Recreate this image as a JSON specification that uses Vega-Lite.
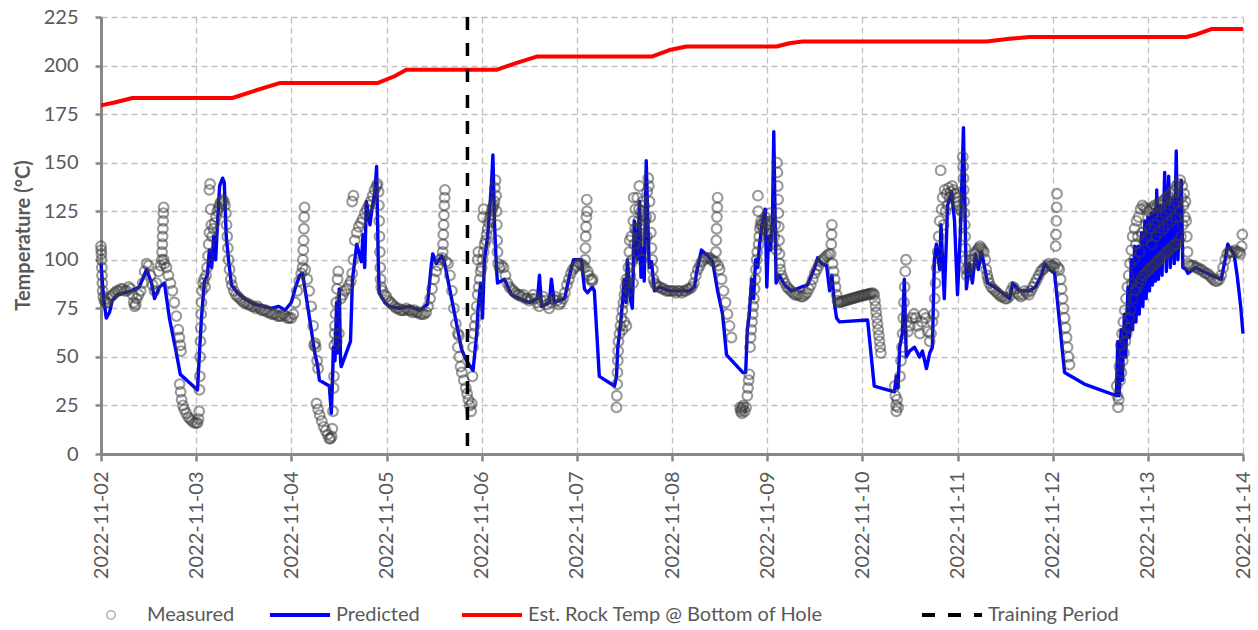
{
  "$schema": "https://vega.github.io/schema/vega-lite/v6.json",
  "width": 1142,
  "height": 437,
  "autosize": {"type": "none"},
  "padding": {"left": 101, "top": 17, "right": 15, "bottom": 176},
  "background": "#ffffff",
  "config": {
    "font": "Lato",
    "view": {"stroke": null},
    "axis": {
      "labelFont": "Lato", "labelFontSize": 20, "labelColor": "#595959",
      "domainColor": "#878787", "domainWidth": 3,
      "tickColor": "#878787", "tickWidth": 2.5,
      "gridColor": "#bfbfbf", "gridDash": [6, 4], "gridWidth": 1.3,
      "titleFont": "Lato", "titleColor": "#595959"
    },
    "legend": {"labelFont": "Lato", "labelFontSize": 20, "labelColor": "#595959", "labelLimit": 0, "padding": 0}
  },
  "datasets": {
    "rock": [
      {"t": "2022-11-02T00:00", "v": 179.5}, {"t": "2022-11-02T03:24", "v": 181}, {"t": "2022-11-02T07:56", "v": 183.3},
      {"t": "2022-11-03T09:09", "v": 183.3}, {"t": "2022-11-03T14:42", "v": 187}, {"t": "2022-11-03T21:00", "v": 191},
      {"t": "2022-11-04T21:44", "v": 191}, {"t": "2022-11-05T02:00", "v": 194.5}, {"t": "2022-11-05T05:00", "v": 197.8},
      {"t": "2022-11-06T03:44", "v": 197.8}, {"t": "2022-11-06T08:16", "v": 201}, {"t": "2022-11-06T14:04", "v": 204.7},
      {"t": "2022-11-07T19:04", "v": 204.7}, {"t": "2022-11-07T23:21", "v": 208}, {"t": "2022-11-08T03:39", "v": 209.8},
      {"t": "2022-11-09T02:21", "v": 209.8}, {"t": "2022-11-09T05:37", "v": 211.5}, {"t": "2022-11-09T08:52", "v": 212.4},
      {"t": "2022-11-11T07:19", "v": 212.4}, {"t": "2022-11-11T13:07", "v": 213.8}, {"t": "2022-11-11T18:10", "v": 214.7},
      {"t": "2022-11-13T09:44", "v": 214.7}, {"t": "2022-11-13T12:15", "v": 216}, {"t": "2022-11-13T16:00", "v": 218.8},
      {"t": "2022-11-14T00:00", "v": 218.8}
    ],
    "training": [
      {"t": "2022-11-05T20:25"}
    ],
    "predicted": [
      {"t":"2022-11-02T00:00","v":98},{"t":"2022-11-02T00:40","v":80},{"t":"2022-11-02T01:20","v":70},{"t":"2022-11-02T02:10","v":73},
      {"t":"2022-11-02T02:50","v":79},{"t":"2022-11-02T04:10","v":82},{"t":"2022-11-02T05:55","v":83},{"t":"2022-11-02T07:40","v":84},
      {"t":"2022-11-02T09:40","v":86},{"t":"2022-11-02T11:30","v":95},{"t":"2022-11-02T12:45","v":88},{"t":"2022-11-02T13:30","v":80},
      {"t":"2022-11-02T14:45","v":86},{"t":"2022-11-02T16:00","v":88},{"t":"2022-11-02T17:15","v":70},{"t":"2022-11-02T19:00","v":52},
      {"t":"2022-11-02T20:00","v":41},
      {"t":"2022-11-03T00:20","v":33},{"t":"2022-11-03T00:50","v":52},{"t":"2022-11-03T01:20","v":70},{"t":"2022-11-03T02:05","v":89},
      {"t":"2022-11-03T02:50","v":92},{"t":"2022-11-03T03:20","v":105},{"t":"2022-11-03T03:55","v":96},{"t":"2022-11-03T04:25","v":112},
      {"t":"2022-11-03T04:55","v":100},{"t":"2022-11-03T05:25","v":120},{"t":"2022-11-03T05:55","v":138},{"t":"2022-11-03T06:40","v":142},
      {"t":"2022-11-03T07:05","v":140},{"t":"2022-11-03T07:35","v":112},{"t":"2022-11-03T08:10","v":100},{"t":"2022-11-03T08:55","v":87},
      {"t":"2022-11-03T10:25","v":83},{"t":"2022-11-03T12:10","v":80},{"t":"2022-11-03T14:40","v":77},{"t":"2022-11-03T17:10","v":76},
      {"t":"2022-11-03T18:55","v":75},{"t":"2022-11-03T20:50","v":76},{"t":"2022-11-03T22:25","v":74},
      {"t":"2022-11-04T00:00","v":78},{"t":"2022-11-04T01:05","v":86},{"t":"2022-11-04T02:05","v":92},{"t":"2022-11-04T02:50","v":93},
      {"t":"2022-11-04T04:35","v":70},{"t":"2022-11-04T05:55","v":52},{"t":"2022-11-04T06:35","v":46},{"t":"2022-11-04T07:05","v":38},
      {"t":"2022-11-04T09:35","v":35},{"t":"2022-11-04T10:05","v":21},{"t":"2022-11-04T10:25","v":40},{"t":"2022-11-04T10:35","v":55},
      {"t":"2022-11-04T11:00","v":48},{"t":"2022-11-04T11:25","v":78},{"t":"2022-11-04T11:35","v":52},{"t":"2022-11-04T12:05","v":85},
      {"t":"2022-11-04T12:25","v":48},{"t":"2022-11-04T12:35","v":45},{"t":"2022-11-04T14:55","v":58},{"t":"2022-11-04T15:25","v":90},
      {"t":"2022-11-04T16:30","v":108},{"t":"2022-11-04T17:40","v":99},{"t":"2022-11-04T18:05","v":113},{"t":"2022-11-04T18:30","v":96},
      {"t":"2022-11-04T18:55","v":130},{"t":"2022-11-04T19:50","v":118},{"t":"2022-11-04T20:15","v":125},{"t":"2022-11-04T21:05","v":135},
      {"t":"2022-11-04T21:30","v":148},{"t":"2022-11-04T21:55","v":100},{"t":"2022-11-04T22:10","v":83},{"t":"2022-11-04T23:35","v":78},
      {"t":"2022-11-05T00:45","v":76},{"t":"2022-11-05T03:20","v":75},{"t":"2022-11-05T05:50","v":76},{"t":"2022-11-05T08:20","v":74},
      {"t":"2022-11-05T10:20","v":77},{"t":"2022-11-05T11:20","v":98},{"t":"2022-11-05T11:40","v":103},{"t":"2022-11-05T12:35","v":98},
      {"t":"2022-11-05T13:55","v":102},{"t":"2022-11-05T14:35","v":99},{"t":"2022-11-05T16:25","v":80},{"t":"2022-11-05T17:40","v":67},
      {"t":"2022-11-05T18:55","v":54},{"t":"2022-11-05T20:10","v":48},{"t":"2022-11-05T21:50","v":43},{"t":"2022-11-05T22:45","v":62},
      {"t":"2022-11-05T23:05","v":75},{"t":"2022-11-05T23:45","v":88},
      {"t":"2022-11-06T00:12","v":70},{"t":"2022-11-06T00:42","v":100},{"t":"2022-11-06T01:30","v":112},{"t":"2022-11-06T02:00","v":125},
      {"t":"2022-11-06T02:30","v":140},{"t":"2022-11-06T02:50","v":154},{"t":"2022-11-06T03:15","v":118},{"t":"2022-11-06T03:45","v":95},
      {"t":"2022-11-06T04:00","v":88},{"t":"2022-11-06T05:45","v":90},{"t":"2022-11-06T07:30","v":82},{"t":"2022-11-06T09:30","v":80},
      {"t":"2022-11-06T12:05","v":78},{"t":"2022-11-06T14:05","v":80},{"t":"2022-11-06T14:35","v":92},{"t":"2022-11-06T15:05","v":76},
      {"t":"2022-11-06T17:05","v":78},{"t":"2022-11-06T17:35","v":90},{"t":"2022-11-06T18:20","v":78},{"t":"2022-11-06T20:55","v":80},
      {"t":"2022-11-06T22:10","v":92},{"t":"2022-11-06T23:10","v":100},{"t":"2022-11-06T23:35","v":100},
      {"t":"2022-11-07T01:10","v":100},{"t":"2022-11-07T01:55","v":85},{"t":"2022-11-07T02:40","v":83},{"t":"2022-11-07T03:55","v":86},
      {"t":"2022-11-07T04:25","v":84},{"t":"2022-11-07T05:40","v":40},{"t":"2022-11-07T09:30","v":35},{"t":"2022-11-07T10:00","v":40},
      {"t":"2022-11-07T10:20","v":55},{"t":"2022-11-07T10:45","v":62},{"t":"2022-11-07T11:10","v":70},{"t":"2022-11-07T12:00","v":90},
      {"t":"2022-11-07T12:25","v":78},{"t":"2022-11-07T12:45","v":100},{"t":"2022-11-07T13:30","v":80},{"t":"2022-11-07T14:00","v":75},
      {"t":"2022-11-07T14:30","v":120},{"t":"2022-11-07T15:15","v":100},{"t":"2022-11-07T15:50","v":130},{"t":"2022-11-07T16:10","v":91},
      {"t":"2022-11-07T16:30","v":106},{"t":"2022-11-07T17:00","v":89},{"t":"2022-11-07T17:30","v":151},{"t":"2022-11-07T17:55","v":119},
      {"t":"2022-11-07T18:15","v":96},{"t":"2022-11-07T18:50","v":99},{"t":"2022-11-07T19:35","v":84},{"t":"2022-11-07T20:50","v":86},
      {"t":"2022-11-07T23:20","v":84},
      {"t":"2022-11-08T01:55","v":84},{"t":"2022-11-08T04:25","v":84},{"t":"2022-11-08T05:40","v":86},{"t":"2022-11-08T06:10","v":93},
      {"t":"2022-11-08T07:25","v":105},{"t":"2022-11-08T09:00","v":102},{"t":"2022-11-08T10:15","v":99},{"t":"2022-11-08T11:30","v":84},
      {"t":"2022-11-08T12:45","v":72},{"t":"2022-11-08T13:45","v":51},{"t":"2022-11-08T17:50","v":42},{"t":"2022-11-08T18:35","v":42},
      {"t":"2022-11-08T19:00","v":64},{"t":"2022-11-08T19:30","v":72},{"t":"2022-11-08T20:05","v":90},{"t":"2022-11-08T20:35","v":80},
      {"t":"2022-11-08T21:05","v":100},{"t":"2022-11-08T21:35","v":96},{"t":"2022-11-08T22:05","v":108},{"t":"2022-11-08T22:50","v":120},
      {"t":"2022-11-08T23:30","v":126},{"t":"2022-11-08T23:55","v":86},
      {"t":"2022-11-09T00:20","v":112},{"t":"2022-11-09T00:50","v":105},{"t":"2022-11-09T01:20","v":120},{"t":"2022-11-09T01:40","v":166},
      {"t":"2022-11-09T02:15","v":88},{"t":"2022-11-09T03:05","v":92},{"t":"2022-11-09T04:25","v":87},{"t":"2022-11-09T06:05","v":84},
      {"t":"2022-11-09T08:40","v":86},{"t":"2022-11-09T10:10","v":87},{"t":"2022-11-09T12:00","v":96},{"t":"2022-11-09T12:45","v":101},
      {"t":"2022-11-09T13:45","v":98},{"t":"2022-11-09T15:00","v":97},{"t":"2022-11-09T15:45","v":84},{"t":"2022-11-09T16:20","v":92},
      {"t":"2022-11-09T17:00","v":77},{"t":"2022-11-09T17:30","v":70},{"t":"2022-11-09T18:15","v":68},
      {"t":"2022-11-10T01:20","v":69},{"t":"2022-11-10T03:00","v":35},{"t":"2022-11-10T08:05","v":32},{"t":"2022-11-10T08:35","v":40},
      {"t":"2022-11-10T09:00","v":34},{"t":"2022-11-10T09:25","v":55},{"t":"2022-11-10T10:05","v":62},{"t":"2022-11-10T10:35","v":90},
      {"t":"2022-11-10T11:05","v":50},{"t":"2022-11-10T11:55","v":53},{"t":"2022-11-10T13:10","v":55},{"t":"2022-11-10T14:25","v":50},
      {"t":"2022-11-10T15:10","v":53},{"t":"2022-11-10T16:10","v":44},{"t":"2022-11-10T17:00","v":52},{"t":"2022-11-10T17:40","v":55},
      {"t":"2022-11-10T18:10","v":100},{"t":"2022-11-10T18:40","v":108},{"t":"2022-11-10T19:30","v":95},{"t":"2022-11-10T19:50","v":118},
      {"t":"2022-11-10T20:40","v":80},{"t":"2022-11-10T21:30","v":128},{"t":"2022-11-10T22:30","v":135},{"t":"2022-11-10T23:15","v":120},
      {"t":"2022-11-11T00:00","v":82},{"t":"2022-11-11T00:45","v":115},{"t":"2022-11-11T01:30","v":168},{"t":"2022-11-11T02:15","v":85},
      {"t":"2022-11-11T03:00","v":98},{"t":"2022-11-11T03:45","v":88},{"t":"2022-11-11T04:30","v":103},{"t":"2022-11-11T05:15","v":95},
      {"t":"2022-11-11T06:05","v":104},{"t":"2022-11-11T06:50","v":96},{"t":"2022-11-11T07:35","v":88},{"t":"2022-11-11T09:20","v":86},
      {"t":"2022-11-11T11:55","v":82},{"t":"2022-11-11T13:10","v":80},{"t":"2022-11-11T13:55","v":88},{"t":"2022-11-11T15:35","v":84},
      {"t":"2022-11-11T18:10","v":84},{"t":"2022-11-11T19:40","v":86},{"t":"2022-11-11T21:10","v":92},{"t":"2022-11-11T22:00","v":98},
      {"t":"2022-11-11T23:10","v":95},
      {"t":"2022-11-12T00:30","v":93},{"t":"2022-11-12T03:00","v":42},{"t":"2022-11-12T08:00","v":36},{"t":"2022-11-12T12:00","v":33},
      {"t":"2022-11-12T16:05","v":30},{"t":"2022-11-12T16:25","v":58},{"t":"2022-11-12T16:45","v":30},{"t":"2022-11-12T17:15","v":64},
      {"t":"2022-11-12T17:35","v":38},{"t":"2022-11-12T18:05","v":72},{"t":"2022-11-12T18:25","v":50},{"t":"2022-11-12T19:00","v":86},
      {"t":"2022-11-12T19:20","v":60},{"t":"2022-11-12T19:50","v":100},{"t":"2022-11-12T20:10","v":64},{"t":"2022-11-12T20:40","v":107},
      {"t":"2022-11-12T21:00","v":68},{"t":"2022-11-12T21:30","v":107},{"t":"2022-11-12T21:50","v":72},{"t":"2022-11-12T22:25","v":114},
      {"t":"2022-11-12T22:45","v":76},{"t":"2022-11-12T23:15","v":120},{"t":"2022-11-12T23:35","v":80},
      {"t":"2022-11-13T00:00","v":122},{"t":"2022-11-13T00:25","v":84},{"t":"2022-11-13T00:50","v":124},{"t":"2022-11-13T01:10","v":87},
      {"t":"2022-11-13T01:40","v":126},{"t":"2022-11-13T01:55","v":89},{"t":"2022-11-13T02:15","v":136},{"t":"2022-11-13T02:40","v":90},
      {"t":"2022-11-13T03:10","v":128},{"t":"2022-11-13T03:35","v":92},{"t":"2022-11-13T04:15","v":145},{"t":"2022-11-13T04:40","v":94},
      {"t":"2022-11-13T05:15","v":143},{"t":"2022-11-13T05:40","v":96},{"t":"2022-11-13T06:20","v":132},{"t":"2022-11-13T06:40","v":98},
      {"t":"2022-11-13T07:10","v":156},{"t":"2022-11-13T07:35","v":100},{"t":"2022-11-13T08:25","v":141},{"t":"2022-11-13T08:50","v":96},
      {"t":"2022-11-13T09:40","v":95},{"t":"2022-11-13T10:05","v":93},{"t":"2022-11-13T12:00","v":96},{"t":"2022-11-13T14:00","v":94},
      {"t":"2022-11-13T16:00","v":92},{"t":"2022-11-13T18:30","v":90},{"t":"2022-11-13T19:30","v":100},{"t":"2022-11-13T20:10","v":108},
      {"t":"2022-11-13T21:00","v":105},{"t":"2022-11-13T21:45","v":103},{"t":"2022-11-13T22:35","v":91},{"t":"2022-11-13T23:25","v":76},
      {"t":"2022-11-14T00:00","v":62}
    ],
    "measured": [
      {"t":"2022-11-02T00:00","v":107},{"t":"2022-11-02T00:03","v":105},{"t":"2022-11-02T00:06","v":103},{"t":"2022-11-02T00:09","v":100},
      {"t":"2022-11-02T00:12","v":96},{"t":"2022-11-02T00:15","v":92},{"t":"2022-11-02T00:20","v":88},{"t":"2022-11-02T00:25","v":84},
      {"t":"2022-11-02T00:35","v":81},{"t":"2022-11-02T00:50","v":79},{"t":"2022-11-02T01:10","v":78},{"t":"2022-11-02T01:30","v":78},
      {"t":"2022-11-02T02:00","v":80},{"t":"2022-11-02T02:30","v":81},{"t":"2022-11-02T03:00","v":82},{"t":"2022-11-02T03:30","v":83},
      {"t":"2022-11-02T04:00","v":84},{"t":"2022-11-02T04:30","v":84},{"t":"2022-11-02T05:00","v":85},{"t":"2022-11-02T05:30","v":85},
      {"t":"2022-11-02T06:00","v":84},{"t":"2022-11-02T06:30","v":84},{"t":"2022-11-02T07:00","v":86},{"t":"2022-11-02T07:30","v":85},
      {"t":"2022-11-02T08:00","v":82},{"t":"2022-11-02T08:15","v":78},{"t":"2022-11-02T08:30","v":76},{"t":"2022-11-02T08:45","v":77},
      {"t":"2022-11-02T09:00","v":80},{"t":"2022-11-02T09:30","v":82},{"t":"2022-11-02T10:00","v":84},{"t":"2022-11-02T10:30","v":88},
      {"t":"2022-11-02T11:00","v":94},{"t":"2022-11-02T11:30","v":98},{"t":"2022-11-02T12:00","v":97},{"t":"2022-11-02T12:30","v":92},
      {"t":"2022-11-02T13:00","v":87},{"t":"2022-11-02T13:30","v":84},{"t":"2022-11-02T14:00","v":88},{"t":"2022-11-02T14:30","v":94},
      {"t":"2022-11-02T15:00","v":97},{"t":"2022-11-02T15:20","v":100},{"t":"2022-11-02T15:24","v":104},{"t":"2022-11-02T15:28","v":108},
      {"t":"2022-11-02T15:32","v":112},{"t":"2022-11-02T15:36","v":116},{"t":"2022-11-02T15:40","v":120},{"t":"2022-11-02T15:44","v":124},
      {"t":"2022-11-02T15:48","v":127},{"t":"2022-11-02T15:50","v":100},{"t":"2022-11-02T16:00","v":98},{"t":"2022-11-02T16:30","v":96},
      {"t":"2022-11-02T17:00","v":92},{"t":"2022-11-02T17:30","v":88},{"t":"2022-11-02T18:00","v":84},{"t":"2022-11-02T18:30","v":78},
      {"t":"2022-11-02T19:00","v":71},{"t":"2022-11-02T19:30","v":64},{"t":"2022-11-02T19:45","v":60},{"t":"2022-11-02T20:00","v":56},
      {"t":"2022-11-02T20:10","v":53},{"t":"2022-11-02T19:50","v":36},{"t":"2022-11-02T20:05","v":32},{"t":"2022-11-02T20:20","v":28},
      {"t":"2022-11-02T20:40","v":25},{"t":"2022-11-02T21:00","v":23},{"t":"2022-11-02T21:30","v":21},{"t":"2022-11-02T22:00","v":19},
      {"t":"2022-11-02T22:30","v":18},{"t":"2022-11-02T23:00","v":17},{"t":"2022-11-02T23:30","v":16},
      {"t":"2022-11-03T00:00","v":16},{"t":"2022-11-03T00:20","v":16},{"t":"2022-11-03T00:35","v":18},{"t":"2022-11-03T00:45","v":22},
      {"t":"2022-11-03T00:50","v":33},{"t":"2022-11-03T00:55","v":40},{"t":"2022-11-03T01:00","v":50},{"t":"2022-11-03T01:05","v":58},
      {"t":"2022-11-03T01:10","v":65},{"t":"2022-11-03T01:15","v":72},{"t":"2022-11-03T01:20","v":78},{"t":"2022-11-03T01:30","v":84},
      {"t":"2022-11-03T01:45","v":88},{"t":"2022-11-03T02:00","v":90},{"t":"2022-11-03T02:15","v":86},{"t":"2022-11-03T02:30","v":92},
      {"t":"2022-11-03T02:45","v":96},{"t":"2022-11-03T03:00","v":102},{"t":"2022-11-03T03:10","v":108},{"t":"2022-11-03T03:20","v":114},
      {"t":"2022-11-03T03:20","v":136},{"t":"2022-11-03T03:30","v":139},{"t":"2022-11-03T03:40","v":126},{"t":"2022-11-03T03:50","v":118},
      {"t":"2022-11-03T04:00","v":112},{"t":"2022-11-03T04:20","v":116},{"t":"2022-11-03T04:40","v":119},{"t":"2022-11-03T05:00","v":122},
      {"t":"2022-11-03T05:20","v":125},{"t":"2022-11-03T05:40","v":127},{"t":"2022-11-03T06:00","v":129},{"t":"2022-11-03T06:20","v":130},
      {"t":"2022-11-03T06:40","v":131},{"t":"2022-11-03T07:00","v":130},{"t":"2022-11-03T07:15","v":128},{"t":"2022-11-03T07:30","v":124},
      {"t":"2022-11-03T07:40","v":118},{"t":"2022-11-03T07:50","v":112},{"t":"2022-11-03T08:00","v":106},{"t":"2022-11-03T08:10","v":100},
      {"t":"2022-11-03T08:25","v":95},{"t":"2022-11-03T08:45","v":90},{"t":"2022-11-03T09:00","v":87},{"t":"2022-11-03T09:30","v":84},
      {"t":"2022-11-03T10:00","v":82},{"t":"2022-11-03T10:30","v":81},{"t":"2022-11-03T11:00","v":80},{"t":"2022-11-03T11:30","v":79},
      {"t":"2022-11-03T12:00","v":78},{"t":"2022-11-03T12:30","v":78},{"t":"2022-11-03T13:00","v":77},{"t":"2022-11-03T13:30","v":77},
      {"t":"2022-11-03T14:00","v":76},{"t":"2022-11-03T14:30","v":76},{"t":"2022-11-03T15:00","v":75},{"t":"2022-11-03T15:30","v":76},
      {"t":"2022-11-03T16:00","v":75},{"t":"2022-11-03T16:30","v":74},{"t":"2022-11-03T17:00","v":74},{"t":"2022-11-03T17:30","v":74},
      {"t":"2022-11-03T18:00","v":73},{"t":"2022-11-03T18:30","v":73},{"t":"2022-11-03T19:00","v":72},{"t":"2022-11-03T19:30","v":72},
      {"t":"2022-11-03T20:00","v":72},{"t":"2022-11-03T20:30","v":71},{"t":"2022-11-03T21:00","v":71},{"t":"2022-11-03T21:30","v":71},
      {"t":"2022-11-03T22:00","v":72},{"t":"2022-11-03T22:30","v":71},{"t":"2022-11-03T23:00","v":70},{"t":"2022-11-03T23:30","v":70},
      {"t":"2022-11-04T00:00","v":70},{"t":"2022-11-04T00:30","v":72},{"t":"2022-11-04T01:00","v":78},{"t":"2022-11-04T01:30","v":84},
      {"t":"2022-11-04T02:00","v":89},{"t":"2022-11-04T02:30","v":93},{"t":"2022-11-04T02:50","v":96},{"t":"2022-11-04T02:55","v":100},
      {"t":"2022-11-04T03:00","v":105},{"t":"2022-11-04T03:05","v":110},{"t":"2022-11-04T03:10","v":116},{"t":"2022-11-04T03:15","v":122},
      {"t":"2022-11-04T03:20","v":127},{"t":"2022-11-04T03:30","v":95},{"t":"2022-11-04T04:00","v":90},{"t":"2022-11-04T04:30","v":84},
      {"t":"2022-11-04T05:00","v":76},{"t":"2022-11-04T05:30","v":66},{"t":"2022-11-04T05:45","v":56},{"t":"2022-11-04T06:00","v":57},
      {"t":"2022-11-04T06:10","v":55},{"t":"2022-11-04T06:30","v":48},{"t":"2022-11-04T06:45","v":44},{"t":"2022-11-04T06:20","v":26},
      {"t":"2022-11-04T06:45","v":23},{"t":"2022-11-04T07:10","v":20},{"t":"2022-11-04T07:40","v":17},{"t":"2022-11-04T08:10","v":14},
      {"t":"2022-11-04T08:40","v":12},{"t":"2022-11-04T09:10","v":10},{"t":"2022-11-04T09:35","v":8},{"t":"2022-11-04T09:50","v":8},
      {"t":"2022-11-04T10:10","v":9},{"t":"2022-11-04T10:20","v":13},{"t":"2022-11-04T10:30","v":22},{"t":"2022-11-04T10:40","v":34},
      {"t":"2022-11-04T10:45","v":40},{"t":"2022-11-04T10:50","v":56},{"t":"2022-11-04T10:55","v":62},{"t":"2022-11-04T11:00","v":66},
      {"t":"2022-11-04T11:10","v":72},{"t":"2022-11-04T11:20","v":78},{"t":"2022-11-04T11:30","v":85},{"t":"2022-11-04T11:40","v":90},
      {"t":"2022-11-04T11:50","v":94},{"t":"2022-11-04T11:30","v":58},{"t":"2022-11-04T12:00","v":62},{"t":"2022-11-04T12:30","v":80},
      {"t":"2022-11-04T13:00","v":82},{"t":"2022-11-04T13:30","v":84},{"t":"2022-11-04T14:00","v":85},{"t":"2022-11-04T14:30","v":87},
      {"t":"2022-11-04T15:00","v":89},{"t":"2022-11-04T15:20","v":93},{"t":"2022-11-04T15:40","v":100},{"t":"2022-11-04T15:20","v":130},
      {"t":"2022-11-04T15:40","v":133},{"t":"2022-11-04T16:00","v":110},{"t":"2022-11-04T16:30","v":114},{"t":"2022-11-04T17:00","v":117},
      {"t":"2022-11-04T17:30","v":119},{"t":"2022-11-04T18:00","v":121},{"t":"2022-11-04T18:30","v":124},{"t":"2022-11-04T19:00","v":126},
      {"t":"2022-11-04T19:30","v":128},{"t":"2022-11-04T20:00","v":130},{"t":"2022-11-04T20:30","v":133},{"t":"2022-11-04T21:00","v":136},
      {"t":"2022-11-04T21:30","v":138},{"t":"2022-11-04T21:45","v":139},{"t":"2022-11-04T22:00","v":135},{"t":"2022-11-04T22:05","v":128},
      {"t":"2022-11-04T22:10","v":120},{"t":"2022-11-04T22:15","v":112},{"t":"2022-11-04T22:20","v":104},{"t":"2022-11-04T22:25","v":96},
      {"t":"2022-11-04T22:30","v":90},{"t":"2022-11-04T22:40","v":86},{"t":"2022-11-04T23:00","v":84},{"t":"2022-11-04T23:30","v":82},
      {"t":"2022-11-05T00:00","v":81},{"t":"2022-11-05T00:30","v":79},{"t":"2022-11-05T01:00","v":78},{"t":"2022-11-05T01:30","v":77},
      {"t":"2022-11-05T02:00","v":76},{"t":"2022-11-05T02:30","v":75},{"t":"2022-11-05T03:00","v":75},{"t":"2022-11-05T03:30","v":74},
      {"t":"2022-11-05T04:00","v":74},{"t":"2022-11-05T04:30","v":74},{"t":"2022-11-05T05:00","v":75},{"t":"2022-11-05T05:30","v":74},
      {"t":"2022-11-05T06:00","v":74},{"t":"2022-11-05T06:30","v":73},{"t":"2022-11-05T07:00","v":74},{"t":"2022-11-05T07:30","v":73},
      {"t":"2022-11-05T08:00","v":73},{"t":"2022-11-05T08:30","v":72},{"t":"2022-11-05T09:00","v":72},{"t":"2022-11-05T09:30","v":72},
      {"t":"2022-11-05T10:00","v":73},{"t":"2022-11-05T10:30","v":76},{"t":"2022-11-05T11:00","v":80},{"t":"2022-11-05T11:30","v":85},
      {"t":"2022-11-05T12:00","v":90},{"t":"2022-11-05T12:30","v":94},{"t":"2022-11-05T13:00","v":97},{"t":"2022-11-05T13:30","v":100},
      {"t":"2022-11-05T14:00","v":101},{"t":"2022-11-05T14:10","v":104},{"t":"2022-11-05T14:15","v":108},{"t":"2022-11-05T14:20","v":113},
      {"t":"2022-11-05T14:25","v":118},{"t":"2022-11-05T14:30","v":123},{"t":"2022-11-05T14:35","v":128},{"t":"2022-11-05T14:40","v":132},
      {"t":"2022-11-05T14:45","v":136},{"t":"2022-11-05T15:00","v":99},{"t":"2022-11-05T15:30","v":98},{"t":"2022-11-05T16:00","v":92},
      {"t":"2022-11-05T16:30","v":84},{"t":"2022-11-05T17:00","v":75},{"t":"2022-11-05T17:30","v":67},{"t":"2022-11-05T18:00","v":62},
      {"t":"2022-11-05T18:15","v":61},{"t":"2022-11-05T18:00","v":55},{"t":"2022-11-05T18:20","v":50},{"t":"2022-11-05T18:40","v":45},
      {"t":"2022-11-05T19:00","v":42},{"t":"2022-11-05T19:30","v":38},{"t":"2022-11-05T20:00","v":34},{"t":"2022-11-05T20:20","v":31},
      {"t":"2022-11-05T20:40","v":28},{"t":"2022-11-05T21:00","v":25},{"t":"2022-11-05T21:20","v":22},{"t":"2022-11-05T21:30","v":26},
      {"t":"2022-11-05T21:40","v":40},{"t":"2022-11-05T21:50","v":55},{"t":"2022-11-05T22:00","v":62},{"t":"2022-11-05T22:15","v":66},
      {"t":"2022-11-05T22:30","v":70},{"t":"2022-11-05T22:45","v":76},{"t":"2022-11-05T23:00","v":82},{"t":"2022-11-05T23:15","v":86},
      {"t":"2022-11-05T23:30","v":90},{"t":"2022-11-05T23:45","v":94},{"t":"2022-11-05T23:00","v":100},{"t":"2022-11-05T23:10","v":104},
      {"t":"2022-11-06T00:00","v":96},{"t":"2022-11-06T00:15","v":100},{"t":"2022-11-06T00:20","v":122},{"t":"2022-11-06T00:30","v":126},
      {"t":"2022-11-06T00:30","v":104},{"t":"2022-11-06T00:45","v":108},{"t":"2022-11-06T01:00","v":110},{"t":"2022-11-06T01:15","v":113},
      {"t":"2022-11-06T01:30","v":116},{"t":"2022-11-06T01:45","v":119},{"t":"2022-11-06T02:00","v":121},{"t":"2022-11-06T02:15","v":123},
      {"t":"2022-11-06T02:30","v":125},{"t":"2022-11-06T02:45","v":127},{"t":"2022-11-06T03:00","v":128},{"t":"2022-11-06T03:15","v":130},
      {"t":"2022-11-06T03:20","v":137},{"t":"2022-11-06T03:30","v":141},{"t":"2022-11-06T03:40","v":133},{"t":"2022-11-06T03:45","v":125},
      {"t":"2022-11-06T03:50","v":118},{"t":"2022-11-06T03:55","v":110},{"t":"2022-11-06T04:00","v":104},{"t":"2022-11-06T04:10","v":98},
      {"t":"2022-11-06T04:30","v":96},{"t":"2022-11-06T05:00","v":97},{"t":"2022-11-06T05:30","v":96},{"t":"2022-11-06T06:00","v":92},
      {"t":"2022-11-06T06:30","v":88},{"t":"2022-11-06T07:00","v":86},{"t":"2022-11-06T07:30","v":85},{"t":"2022-11-06T08:00","v":84},
      {"t":"2022-11-06T08:30","v":83},{"t":"2022-11-06T09:00","v":82},{"t":"2022-11-06T09:30","v":82},{"t":"2022-11-06T10:00","v":81},
      {"t":"2022-11-06T10:30","v":82},{"t":"2022-11-06T11:00","v":80},{"t":"2022-11-06T11:30","v":80},{"t":"2022-11-06T12:00","v":79},
      {"t":"2022-11-06T12:30","v":80},{"t":"2022-11-06T13:00","v":82},{"t":"2022-11-06T13:30","v":80},{"t":"2022-11-06T14:00","v":78},
      {"t":"2022-11-06T14:30","v":76},{"t":"2022-11-06T15:00","v":79},{"t":"2022-11-06T15:30","v":81},{"t":"2022-11-06T16:00","v":79},
      {"t":"2022-11-06T16:30","v":77},{"t":"2022-11-06T17:00","v":75},{"t":"2022-11-06T17:30","v":78},{"t":"2022-11-06T18:00","v":80},
      {"t":"2022-11-06T18:30","v":81},{"t":"2022-11-06T19:00","v":79},{"t":"2022-11-06T19:30","v":77},{"t":"2022-11-06T20:00","v":78},
      {"t":"2022-11-06T20:30","v":80},{"t":"2022-11-06T21:00","v":83},{"t":"2022-11-06T21:30","v":87},{"t":"2022-11-06T22:00","v":90},
      {"t":"2022-11-06T22:30","v":93},{"t":"2022-11-06T23:00","v":95},{"t":"2022-11-06T23:30","v":96},
      {"t":"2022-11-07T00:00","v":97},{"t":"2022-11-07T00:30","v":98},{"t":"2022-11-07T01:00","v":98},{"t":"2022-11-07T01:30","v":97},
      {"t":"2022-11-07T02:00","v":96},{"t":"2022-11-07T02:05","v":100},{"t":"2022-11-07T02:10","v":106},{"t":"2022-11-07T02:15","v":112},
      {"t":"2022-11-07T02:20","v":117},{"t":"2022-11-07T02:25","v":122},{"t":"2022-11-07T02:30","v":131},{"t":"2022-11-07T02:35","v":125},
      {"t":"2022-11-07T02:45","v":94},{"t":"2022-11-07T03:00","v":92},{"t":"2022-11-07T03:30","v":90},{"t":"2022-11-07T03:50","v":89},
      {"t":"2022-11-07T04:00","v":90},
      {"t":"2022-11-07T10:00","v":24},{"t":"2022-11-07T10:05","v":30},{"t":"2022-11-07T10:10","v":36},{"t":"2022-11-07T10:15","v":42},
      {"t":"2022-11-07T10:20","v":48},{"t":"2022-11-07T10:25","v":53},{"t":"2022-11-07T10:30","v":58},{"t":"2022-11-07T10:45","v":62},
      {"t":"2022-11-07T11:00","v":66},{"t":"2022-11-07T11:15","v":70},{"t":"2022-11-07T11:30","v":74},{"t":"2022-11-07T11:45","v":78},
      {"t":"2022-11-07T12:00","v":82},{"t":"2022-11-07T12:15","v":86},{"t":"2022-11-07T12:30","v":90},{"t":"2022-11-07T12:45","v":88},
      {"t":"2022-11-07T11:30","v":64},{"t":"2022-11-07T12:00","v":68},{"t":"2022-11-07T12:30","v":66},
      {"t":"2022-11-07T13:00","v":96},{"t":"2022-11-07T13:15","v":104},{"t":"2022-11-07T13:30","v":92},{"t":"2022-11-07T13:45","v":112},
      {"t":"2022-11-07T14:00","v":100},{"t":"2022-11-07T14:15","v":120},{"t":"2022-11-07T14:30","v":108},{"t":"2022-11-07T14:45","v":126},
      {"t":"2022-11-07T15:00","v":115},{"t":"2022-11-07T15:15","v":132},{"t":"2022-11-07T15:30","v":120},{"t":"2022-11-07T15:45","v":138},
      {"t":"2022-11-07T16:00","v":112},{"t":"2022-11-07T16:15","v":125},{"t":"2022-11-07T16:30","v":105},{"t":"2022-11-07T16:45","v":118},
      {"t":"2022-11-07T17:00","v":128},{"t":"2022-11-07T17:15","v":110},{"t":"2022-11-07T17:30","v":122},{"t":"2022-11-07T17:45","v":135},
      {"t":"2022-11-07T13:10","v":84},{"t":"2022-11-07T13:40","v":98},{"t":"2022-11-07T14:10","v":88},{"t":"2022-11-07T14:40","v":116},
      {"t":"2022-11-07T15:10","v":104},{"t":"2022-11-07T15:40","v":126},{"t":"2022-11-07T16:10","v":118},{"t":"2022-11-07T16:40","v":130},
      {"t":"2022-11-07T17:10","v":120},{"t":"2022-11-07T17:40","v":112},{"t":"2022-11-07T13:20","v":110},{"t":"2022-11-07T14:20","v":132},
      {"t":"2022-11-07T15:20","v":110},{"t":"2022-11-07T16:20","v":100},
      {"t":"2022-11-07T18:00","v":142},{"t":"2022-11-07T18:10","v":138},{"t":"2022-11-07T18:20","v":130},{"t":"2022-11-07T18:30","v":122},
      {"t":"2022-11-07T18:40","v":114},{"t":"2022-11-07T18:50","v":106},{"t":"2022-11-07T19:00","v":100},{"t":"2022-11-07T19:10","v":95},
      {"t":"2022-11-07T19:20","v":90},{"t":"2022-11-07T19:40","v":88},{"t":"2022-11-07T20:00","v":87},{"t":"2022-11-07T20:30","v":86},
      {"t":"2022-11-07T21:00","v":86},{"t":"2022-11-07T21:30","v":85},{"t":"2022-11-07T22:00","v":85},{"t":"2022-11-07T22:30","v":84},
      {"t":"2022-11-07T23:00","v":84},{"t":"2022-11-07T23:30","v":84},
      {"t":"2022-11-08T00:00","v":84},{"t":"2022-11-08T00:30","v":84},{"t":"2022-11-08T01:00","v":83},{"t":"2022-11-08T01:30","v":84},
      {"t":"2022-11-08T02:00","v":84},{"t":"2022-11-08T02:30","v":83},{"t":"2022-11-08T03:00","v":84},{"t":"2022-11-08T03:30","v":84},
      {"t":"2022-11-08T04:00","v":85},{"t":"2022-11-08T04:30","v":85},{"t":"2022-11-08T05:00","v":86},{"t":"2022-11-08T05:30","v":88},
      {"t":"2022-11-08T06:00","v":92},{"t":"2022-11-08T06:30","v":95},{"t":"2022-11-08T07:00","v":97},{"t":"2022-11-08T07:30","v":99},
      {"t":"2022-11-08T08:00","v":100},{"t":"2022-11-08T08:30","v":101},{"t":"2022-11-08T09:00","v":101},{"t":"2022-11-08T09:30","v":101},
      {"t":"2022-11-08T10:00","v":100},{"t":"2022-11-08T10:30","v":99},{"t":"2022-11-08T11:00","v":99},{"t":"2022-11-08T11:05","v":104},
      {"t":"2022-11-08T11:10","v":110},{"t":"2022-11-08T11:15","v":116},{"t":"2022-11-08T11:20","v":122},{"t":"2022-11-08T11:25","v":127},
      {"t":"2022-11-08T11:30","v":132},{"t":"2022-11-08T11:40","v":97},{"t":"2022-11-08T12:00","v":95},{"t":"2022-11-08T12:30","v":90},
      {"t":"2022-11-08T13:00","v":84},{"t":"2022-11-08T13:30","v":78},{"t":"2022-11-08T14:00","v":72},{"t":"2022-11-08T14:30","v":66},
      {"t":"2022-11-08T15:00","v":60},
      {"t":"2022-11-08T17:10","v":24},{"t":"2022-11-08T17:20","v":22},{"t":"2022-11-08T17:30","v":23},{"t":"2022-11-08T17:40","v":21},
      {"t":"2022-11-08T17:50","v":24},{"t":"2022-11-08T18:00","v":25},{"t":"2022-11-08T18:20","v":22},{"t":"2022-11-08T18:40","v":24},
      {"t":"2022-11-08T19:00","v":30},{"t":"2022-11-08T19:10","v":34},{"t":"2022-11-08T19:20","v":38},{"t":"2022-11-08T19:30","v":41},
      {"t":"2022-11-08T19:40","v":55},{"t":"2022-11-08T19:50","v":60},{"t":"2022-11-08T20:00","v":64},{"t":"2022-11-08T20:10","v":68},
      {"t":"2022-11-08T20:20","v":72},{"t":"2022-11-08T20:30","v":76},{"t":"2022-11-08T20:40","v":80},{"t":"2022-11-08T20:50","v":85},
      {"t":"2022-11-08T21:00","v":90},{"t":"2022-11-08T21:10","v":95},{"t":"2022-11-08T21:20","v":100},{"t":"2022-11-08T21:30","v":104},
      {"t":"2022-11-08T21:40","v":133},{"t":"2022-11-08T21:45","v":125},{"t":"2022-11-08T21:50","v":108},{"t":"2022-11-08T22:00","v":112},
      {"t":"2022-11-08T22:10","v":116},{"t":"2022-11-08T22:20","v":118},{"t":"2022-11-08T22:30","v":120},{"t":"2022-11-08T22:45","v":118},
      {"t":"2022-11-08T23:00","v":116},{"t":"2022-11-08T23:15","v":120},{"t":"2022-11-08T23:30","v":122},{"t":"2022-11-08T23:45","v":118},
      {"t":"2022-11-09T00:00","v":115},{"t":"2022-11-09T00:15","v":112},{"t":"2022-11-09T00:30","v":118},{"t":"2022-11-09T00:45","v":124},
      {"t":"2022-11-09T01:00","v":120},{"t":"2022-11-09T01:15","v":114},{"t":"2022-11-09T01:30","v":108},{"t":"2022-11-09T01:45","v":112},
      {"t":"2022-11-09T02:00","v":118},{"t":"2022-11-09T02:20","v":105},{"t":"2022-11-09T02:30","v":150},{"t":"2022-11-09T02:35","v":145},
      {"t":"2022-11-09T02:40","v":138},{"t":"2022-11-09T02:45","v":131},{"t":"2022-11-09T02:50","v":124},{"t":"2022-11-09T02:55","v":117},
      {"t":"2022-11-09T03:00","v":110},{"t":"2022-11-09T03:05","v":103},{"t":"2022-11-09T03:10","v":98},{"t":"2022-11-09T03:20","v":95},
      {"t":"2022-11-09T03:40","v":92},{"t":"2022-11-09T04:00","v":90},{"t":"2022-11-09T04:30","v":88},{"t":"2022-11-09T05:00","v":86},
      {"t":"2022-11-09T05:30","v":85},{"t":"2022-11-09T06:00","v":84},{"t":"2022-11-09T06:30","v":83},{"t":"2022-11-09T07:00","v":82},
      {"t":"2022-11-09T07:30","v":82},{"t":"2022-11-09T08:00","v":82},{"t":"2022-11-09T08:30","v":81},{"t":"2022-11-09T09:00","v":81},
      {"t":"2022-11-09T09:30","v":82},{"t":"2022-11-09T10:00","v":83},{"t":"2022-11-09T10:30","v":85},{"t":"2022-11-09T11:00","v":87},
      {"t":"2022-11-09T11:30","v":90},{"t":"2022-11-09T12:00","v":93},{"t":"2022-11-09T12:30","v":95},{"t":"2022-11-09T13:00","v":97},
      {"t":"2022-11-09T13:30","v":99},{"t":"2022-11-09T14:00","v":100},{"t":"2022-11-09T14:30","v":101},{"t":"2022-11-09T15:00","v":102},
      {"t":"2022-11-09T15:30","v":103},{"t":"2022-11-09T16:00","v":103},{"t":"2022-11-09T16:10","v":108},{"t":"2022-11-09T16:15","v":113},
      {"t":"2022-11-09T16:20","v":118},{"t":"2022-11-09T16:30","v":98},{"t":"2022-11-09T16:45","v":94},{"t":"2022-11-09T17:00","v":90},
      {"t":"2022-11-09T17:15","v":86},{"t":"2022-11-09T17:30","v":82},{"t":"2022-11-09T17:45","v":79},{"t":"2022-11-09T18:00","v":78},
      {"t":"2022-11-09T18:20","v":78.2},{"t":"2022-11-09T18:40","v":78.4},{"t":"2022-11-09T19:00","v":78.6},{"t":"2022-11-09T19:20","v":78.8},
      {"t":"2022-11-09T19:40","v":79},{"t":"2022-11-09T20:00","v":79.2},{"t":"2022-11-09T20:20","v":79.4},{"t":"2022-11-09T20:40","v":79.6},
      {"t":"2022-11-09T21:00","v":79.8},{"t":"2022-11-09T21:20","v":80},{"t":"2022-11-09T21:40","v":80.2},{"t":"2022-11-09T22:00","v":80.4},
      {"t":"2022-11-09T22:20","v":80.6},{"t":"2022-11-09T22:40","v":80.8},{"t":"2022-11-09T23:00","v":81},{"t":"2022-11-09T23:20","v":81.2},
      {"t":"2022-11-09T23:40","v":81.4},
      {"t":"2022-11-10T00:00","v":81.5},{"t":"2022-11-10T00:20","v":81.7},{"t":"2022-11-10T00:40","v":81.9},{"t":"2022-11-10T01:00","v":82},
      {"t":"2022-11-10T01:20","v":82.2},{"t":"2022-11-10T01:40","v":82.4},{"t":"2022-11-10T02:00","v":82.5},{"t":"2022-11-10T02:20","v":82.7},
      {"t":"2022-11-10T02:40","v":82.8},{"t":"2022-11-10T03:00","v":82},{"t":"2022-11-10T03:10","v":79},{"t":"2022-11-10T03:20","v":76},
      {"t":"2022-11-10T03:30","v":73},{"t":"2022-11-10T03:40","v":70},{"t":"2022-11-10T03:50","v":67},{"t":"2022-11-10T04:00","v":64},
      {"t":"2022-11-10T04:10","v":61},{"t":"2022-11-10T04:20","v":58},{"t":"2022-11-10T04:30","v":55},{"t":"2022-11-10T04:40","v":52},
      {"t":"2022-11-10T08:10","v":35},{"t":"2022-11-10T08:20","v":30},{"t":"2022-11-10T08:30","v":25},{"t":"2022-11-10T08:35","v":22},
      {"t":"2022-11-10T08:45","v":28},{"t":"2022-11-10T09:00","v":24},{"t":"2022-11-10T09:30","v":40},{"t":"2022-11-10T09:45","v":48},
      {"t":"2022-11-10T10:00","v":55},{"t":"2022-11-10T10:10","v":62},{"t":"2022-11-10T10:20","v":70},{"t":"2022-11-10T10:30","v":78},
      {"t":"2022-11-10T10:40","v":86},{"t":"2022-11-10T10:50","v":94},{"t":"2022-11-10T11:00","v":100},{"t":"2022-11-10T11:10","v":68},
      {"t":"2022-11-10T11:30","v":63},{"t":"2022-11-10T12:00","v":66},{"t":"2022-11-10T12:30","v":70},{"t":"2022-11-10T13:00","v":72},
      {"t":"2022-11-10T13:30","v":70},{"t":"2022-11-10T14:00","v":66},{"t":"2022-11-10T14:30","v":62},{"t":"2022-11-10T15:00","v":68},
      {"t":"2022-11-10T15:30","v":72},{"t":"2022-11-10T16:00","v":70},{"t":"2022-11-10T16:30","v":63},{"t":"2022-11-10T17:00","v":58},
      {"t":"2022-11-10T17:20","v":62},{"t":"2022-11-10T17:40","v":68},{"t":"2022-11-10T18:00","v":72},{"t":"2022-11-10T18:15","v":80},
      {"t":"2022-11-10T18:30","v":88},{"t":"2022-11-10T18:45","v":96},{"t":"2022-11-10T19:00","v":104},{"t":"2022-11-10T19:15","v":112},
      {"t":"2022-11-10T19:30","v":120},{"t":"2022-11-10T19:45","v":146},{"t":"2022-11-10T20:00","v":126},{"t":"2022-11-10T20:15","v":132},
      {"t":"2022-11-10T20:30","v":118},{"t":"2022-11-10T20:45","v":136},{"t":"2022-11-10T21:00","v":125},{"t":"2022-11-10T21:15","v":134},
      {"t":"2022-11-10T21:30","v":128},{"t":"2022-11-10T21:45","v":137},{"t":"2022-11-10T22:00","v":132},{"t":"2022-11-10T22:20","v":135},
      {"t":"2022-11-10T22:40","v":138},{"t":"2022-11-10T23:00","v":136},{"t":"2022-11-10T23:20","v":134},{"t":"2022-11-10T23:40","v":132},
      {"t":"2022-11-11T00:00","v":130},{"t":"2022-11-11T00:20","v":128},{"t":"2022-11-11T00:40","v":126},{"t":"2022-11-11T01:00","v":125},
      {"t":"2022-11-11T01:20","v":153},{"t":"2022-11-11T01:25","v":148},{"t":"2022-11-11T01:30","v":142},{"t":"2022-11-11T01:35","v":136},
      {"t":"2022-11-11T01:40","v":130},{"t":"2022-11-11T01:45","v":124},{"t":"2022-11-11T01:50","v":118},{"t":"2022-11-11T01:55","v":112},
      {"t":"2022-11-11T02:00","v":106},{"t":"2022-11-11T02:05","v":100},{"t":"2022-11-11T02:10","v":95},{"t":"2022-11-11T02:20","v":92},
      {"t":"2022-11-11T02:40","v":95},{"t":"2022-11-11T03:00","v":98},{"t":"2022-11-11T03:20","v":100},{"t":"2022-11-11T03:40","v":97},
      {"t":"2022-11-11T04:00","v":100},{"t":"2022-11-11T04:20","v":103},{"t":"2022-11-11T04:40","v":104},{"t":"2022-11-11T05:00","v":105},
      {"t":"2022-11-11T05:20","v":106},{"t":"2022-11-11T05:40","v":107},{"t":"2022-11-11T06:00","v":106},{"t":"2022-11-11T06:20","v":105},
      {"t":"2022-11-11T06:40","v":104},{"t":"2022-11-11T07:00","v":100},{"t":"2022-11-11T07:15","v":95},{"t":"2022-11-11T07:30","v":92},
      {"t":"2022-11-11T07:45","v":90},{"t":"2022-11-11T08:00","v":88},{"t":"2022-11-11T08:30","v":86},{"t":"2022-11-11T09:00","v":85},
      {"t":"2022-11-11T09:30","v":84},{"t":"2022-11-11T10:00","v":83},{"t":"2022-11-11T10:30","v":82},{"t":"2022-11-11T11:00","v":81},
      {"t":"2022-11-11T11:30","v":81},{"t":"2022-11-11T12:00","v":80},{"t":"2022-11-11T12:30","v":80},{"t":"2022-11-11T13:00","v":81},
      {"t":"2022-11-11T13:30","v":84},{"t":"2022-11-11T14:00","v":86},{"t":"2022-11-11T14:30","v":85},{"t":"2022-11-11T15:00","v":83},
      {"t":"2022-11-11T15:30","v":82},{"t":"2022-11-11T16:00","v":81},{"t":"2022-11-11T16:30","v":82},{"t":"2022-11-11T17:00","v":84},
      {"t":"2022-11-11T17:30","v":83},{"t":"2022-11-11T18:00","v":82},{"t":"2022-11-11T18:30","v":84},{"t":"2022-11-11T19:00","v":86},
      {"t":"2022-11-11T19:30","v":88},{"t":"2022-11-11T20:00","v":90},{"t":"2022-11-11T20:30","v":92},{"t":"2022-11-11T21:00","v":94},
      {"t":"2022-11-11T21:30","v":95},{"t":"2022-11-11T22:00","v":96},{"t":"2022-11-11T22:30","v":97},{"t":"2022-11-11T23:00","v":98},
      {"t":"2022-11-11T23:30","v":97},
      {"t":"2022-11-12T00:00","v":97},{"t":"2022-11-12T00:20","v":96},{"t":"2022-11-12T00:40","v":98},{"t":"2022-11-12T00:45","v":107},
      {"t":"2022-11-12T00:50","v":113},{"t":"2022-11-12T00:55","v":120},{"t":"2022-11-12T01:00","v":127},{"t":"2022-11-12T01:05","v":134},
      {"t":"2022-11-12T01:20","v":96},{"t":"2022-11-12T01:40","v":95},{"t":"2022-11-12T02:00","v":90},{"t":"2022-11-12T02:15","v":85},
      {"t":"2022-11-12T02:30","v":80},{"t":"2022-11-12T02:45","v":75},{"t":"2022-11-12T03:00","v":70},{"t":"2022-11-12T03:15","v":65},
      {"t":"2022-11-12T03:30","v":60},{"t":"2022-11-12T03:45","v":55},{"t":"2022-11-12T04:00","v":50},{"t":"2022-11-12T04:15","v":46},
      {"t":"2022-11-12T16:10","v":35},{"t":"2022-11-12T16:20","v":30},{"t":"2022-11-12T16:30","v":24},{"t":"2022-11-12T16:40","v":28},
      {"t":"2022-11-12T16:50","v":45},{"t":"2022-11-12T17:00","v":38},{"t":"2022-11-12T17:10","v":56},{"t":"2022-11-12T17:20","v":42},
      {"t":"2022-11-12T17:30","v":62},{"t":"2022-11-12T17:40","v":48},{"t":"2022-11-12T17:50","v":68},{"t":"2022-11-12T18:00","v":52},
      {"t":"2022-11-12T18:10","v":74},{"t":"2022-11-12T18:20","v":58},{"t":"2022-11-12T18:30","v":80},{"t":"2022-11-12T18:40","v":62},
      {"t":"2022-11-12T18:50","v":86},{"t":"2022-11-12T19:00","v":65},{"t":"2022-11-12T19:10","v":92},{"t":"2022-11-12T19:20","v":70},
      {"t":"2022-11-12T19:30","v":98},{"t":"2022-11-12T19:40","v":74},{"t":"2022-11-12T19:50","v":105},{"t":"2022-11-12T20:00","v":88},
      {"t":"2022-11-12T20:10","v":112},{"t":"2022-11-12T20:20","v":80},{"t":"2022-11-12T20:30","v":100},{"t":"2022-11-12T20:40","v":116},
      {"t":"2022-11-12T20:50","v":84},{"t":"2022-11-12T21:00","v":108},{"t":"2022-11-12T21:10","v":120},{"t":"2022-11-12T21:20","v":86},
      {"t":"2022-11-12T21:30","v":112},{"t":"2022-11-12T21:40","v":122},{"t":"2022-11-12T21:50","v":88},{"t":"2022-11-12T22:00","v":104},
      {"t":"2022-11-12T22:10","v":126},{"t":"2022-11-12T22:20","v":90},{"t":"2022-11-12T22:30","v":114},{"t":"2022-11-12T22:40","v":128},
      {"t":"2022-11-12T22:50","v":92},{"t":"2022-11-12T23:00","v":110},{"t":"2022-11-12T23:10","v":127},{"t":"2022-11-12T23:20","v":93},
      {"t":"2022-11-12T23:30","v":118},{"t":"2022-11-12T23:40","v":126},{"t":"2022-11-12T23:50","v":94},
      {"t":"2022-11-13T00:00","v":112},{"t":"2022-11-13T00:10","v":125},{"t":"2022-11-13T00:20","v":95},{"t":"2022-11-13T00:30","v":116},
      {"t":"2022-11-13T00:40","v":126},{"t":"2022-11-13T00:50","v":96},{"t":"2022-11-13T01:00","v":108},{"t":"2022-11-13T01:10","v":127},
      {"t":"2022-11-13T01:20","v":97},{"t":"2022-11-13T01:30","v":118},{"t":"2022-11-13T01:40","v":128},{"t":"2022-11-13T01:50","v":98},
      {"t":"2022-11-13T02:00","v":112},{"t":"2022-11-13T02:10","v":127},{"t":"2022-11-13T02:20","v":99},{"t":"2022-11-13T02:30","v":120},
      {"t":"2022-11-13T02:40","v":129},{"t":"2022-11-13T02:50","v":100},{"t":"2022-11-13T03:00","v":114},{"t":"2022-11-13T03:10","v":128},
      {"t":"2022-11-13T03:20","v":101},{"t":"2022-11-13T03:30","v":122},{"t":"2022-11-13T03:40","v":130},{"t":"2022-11-13T03:50","v":102},
      {"t":"2022-11-13T04:00","v":116},{"t":"2022-11-13T04:10","v":131},{"t":"2022-11-13T04:20","v":103},{"t":"2022-11-13T04:30","v":124},
      {"t":"2022-11-13T04:40","v":132},{"t":"2022-11-13T04:50","v":104},{"t":"2022-11-13T05:00","v":118},{"t":"2022-11-13T05:10","v":133},
      {"t":"2022-11-13T05:20","v":105},{"t":"2022-11-13T05:30","v":126},{"t":"2022-11-13T05:40","v":134},{"t":"2022-11-13T05:50","v":106},
      {"t":"2022-11-13T06:00","v":120},{"t":"2022-11-13T06:10","v":135},{"t":"2022-11-13T06:20","v":107},{"t":"2022-11-13T06:30","v":128},
      {"t":"2022-11-13T06:40","v":136},{"t":"2022-11-13T06:50","v":108},{"t":"2022-11-13T07:00","v":122},{"t":"2022-11-13T07:10","v":138},
      {"t":"2022-11-13T07:20","v":108},{"t":"2022-11-13T07:30","v":130},{"t":"2022-11-13T07:40","v":139},{"t":"2022-11-13T07:50","v":110},
      {"t":"2022-11-13T08:00","v":125},{"t":"2022-11-13T08:10","v":141},{"t":"2022-11-13T08:20","v":112},{"t":"2022-11-13T08:30","v":132},
      {"t":"2022-11-13T08:40","v":138},{"t":"2022-11-13T08:50","v":118},{"t":"2022-11-13T09:00","v":128},{"t":"2022-11-13T09:10","v":134},
      {"t":"2022-11-13T09:20","v":122},{"t":"2022-11-13T09:30","v":130},{"t":"2022-11-13T09:40","v":120},{"t":"2022-11-13T09:50","v":112},
      {"t":"2022-11-13T10:00","v":104},{"t":"2022-11-13T10:10","v":98},{"t":"2022-11-13T10:30","v":97},{"t":"2022-11-13T11:00","v":97},
      {"t":"2022-11-13T11:30","v":97},{"t":"2022-11-13T12:00","v":96},{"t":"2022-11-13T12:30","v":96},{"t":"2022-11-13T13:00","v":95},
      {"t":"2022-11-13T13:30","v":95},{"t":"2022-11-13T14:00","v":94},{"t":"2022-11-13T14:30","v":93},{"t":"2022-11-13T15:00","v":93},
      {"t":"2022-11-13T15:30","v":92},{"t":"2022-11-13T16:00","v":91},{"t":"2022-11-13T16:30","v":90},{"t":"2022-11-13T17:00","v":89},
      {"t":"2022-11-13T17:30","v":89},{"t":"2022-11-13T18:00","v":90},{"t":"2022-11-13T18:30","v":92},{"t":"2022-11-13T19:00","v":96},
      {"t":"2022-11-13T19:30","v":100},{"t":"2022-11-13T20:00","v":103},{"t":"2022-11-13T20:30","v":104},{"t":"2022-11-13T21:00","v":104},
      {"t":"2022-11-13T21:30","v":104},{"t":"2022-11-13T22:00","v":105},{"t":"2022-11-13T22:30","v":104},{"t":"2022-11-13T23:00","v":104},
      {"t":"2022-11-13T23:20","v":103},{"t":"2022-11-13T23:40","v":107},{"t":"2022-11-13T23:50","v":113}
    ]
  },
  "encoding": {
    "x": {
      "field": "t", "type": "temporal",
      "scale": {"domain": [{"year": 2022, "month": 11, "date": 2}, {"year": 2022, "month": 11, "date": 14}], "nice": false},
      "axis": {
        "title": null, "format": "%Y-%m-%d", "labelAngle": -90,
        "tickCount": {"interval": "day", "step": 1},
        "grid": true, "tickSize": 7, "labelPadding": 10,
        "labelFlush": false, "labelOverlap": false, "labelBound": false
      }
    }
  },
  "layer": [
    {
      "data": {"name": "predicted"},
      "mark": {"type": "line", "strokeWidth": 3.4, "strokeJoin": "round"},
      "encoding": {
        "y": {
          "field": "v", "type": "quantitative",
          "scale": {"domain": [0, 225], "nice": false},
          "axis": {
            "title": "Temperature (°C)", "values": [0, 25, 50, 75, 100, 125, 150, 175, 200, 225],
            "grid": true, "tickSize": 6, "labelPadding": 17,
            "titleFontSize": 20, "titleFontWeight": "bold",
            "titleAngle": -90, "titleX": -78, "titleY": 218, "titleAlign": "center", "titleBaseline": "middle"
          }
        },
        "color": {
          "datum": "Predicted", "type": "nominal",
          "scale": {"domain": ["Predicted", "Est. Rock Temp @ Bottom of Hole"], "range": ["#0000ff", "#ff0000"]},
          "legend": {
            "title": null, "orient": "none", "legendX": 167, "legendY": 566, "direction": "horizontal",
            "symbolType": "stroke", "symbolSize": 3600, "symbolStrokeWidth": 4,
            "labelOffset": 4, "columnPadding": 34
          }
        }
      }
    },
    {
      "data": {"name": "rock"},
      "mark": {"type": "line", "strokeWidth": 4, "strokeJoin": "round"},
      "encoding": {
        "y": {"field": "v", "type": "quantitative"},
        "color": {"datum": "Est. Rock Temp @ Bottom of Hole", "type": "nominal"}
      }
    },
    {
      "data": {"name": "measured"},
      "mark": {"type": "point", "filled": false, "size": 95, "strokeWidth": 2.1, "color": "#3a3a3a", "strokeOpacity": 0.72},
      "encoding": {
        "y": {"field": "v", "type": "quantitative"},
        "shape": {
          "datum": "Measured", "type": "nominal",
          "scale": {"range": ["circle"]},
          "legend": {
            "title": null, "orient": "none", "legendX": 0, "legendY": 588,
            "symbolSize": 70, "symbolStrokeWidth": 1.5, "symbolStrokeColor": "#8c8c8c", "symbolFillColor": "transparent",
            "labelOffset": 26
          }
        }
      }
    },
    {
      "data": {"name": "training"},
      "mark": {"type": "rule", "strokeWidth": 3.5, "color": "#000000"},
      "encoding": {
        "strokeDash": {
          "datum": "Training Period", "type": "nominal",
          "scale": {"range": [[13, 13]]},
          "legend": {
            "title": null, "orient": "none", "legendX": 819, "legendY": 566,
            "symbolType": "stroke", "symbolSize": 3600, "symbolStrokeWidth": 4, "symbolStrokeColor": "#000000",
            "labelOffset": 4
          }
        }
      }
    }
  ]
}
